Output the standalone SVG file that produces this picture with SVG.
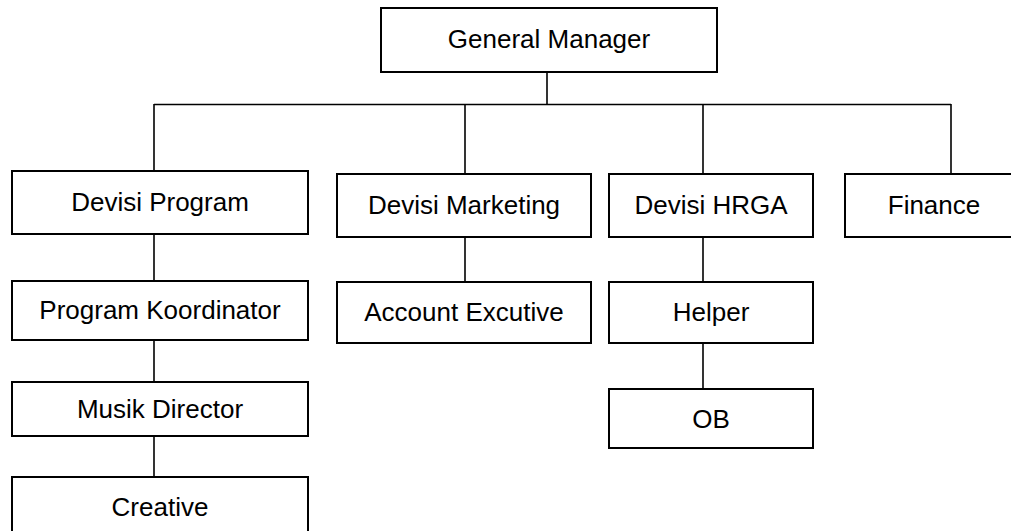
<svg xmlns="http://www.w3.org/2000/svg" width="1011" height="531" viewBox="0 0 1011 531">
<style>
  .box { fill: #ffffff; stroke: #000000; stroke-width: 2; }
  .lbl { font-family: "Liberation Sans", Arial, sans-serif; font-size: 26px; fill: #000000; text-anchor: middle; }
  .conn { stroke: #000000; stroke-width: 1.6; fill: none; }
</style>
<rect x="0" y="0" width="1011" height="531" fill="#ffffff"/>
<g id="connectors">
  <line class="conn" x1="547" y1="72" x2="547" y2="104.5"/>
  <line class="conn" x1="154" y1="104.5" x2="951" y2="104.5"/>
  <line class="conn" x1="154" y1="104" x2="154" y2="171"/>
  <line class="conn" x1="154" y1="234" x2="154" y2="281"/>
  <line class="conn" x1="154" y1="340" x2="154" y2="382"/>
  <line class="conn" x1="154" y1="436" x2="154" y2="477"/>
  <line class="conn" x1="465" y1="104" x2="465" y2="174"/>
  <line class="conn" x1="465" y1="237" x2="465" y2="282"/>
  <line class="conn" x1="703" y1="104" x2="703" y2="174"/>
  <line class="conn" x1="703" y1="237" x2="703" y2="282"/>
  <line class="conn" x1="703" y1="343" x2="703" y2="389"/>
  <line class="conn" x1="951" y1="104" x2="951" y2="174"/>
</g>
<g id="general-manager">
  <rect class="box" x="381" y="8" width="336" height="64"/>
  <text class="lbl" x="549" y="48">General Manager</text>
</g>
<g id="devisi-program">
  <rect class="box" x="12" y="171" width="296" height="63"/>
  <text class="lbl" x="160" y="211">Devisi Program</text>
</g>
<g id="program-koordinator">
  <rect class="box" x="12" y="281" width="296" height="59"/>
  <text class="lbl" x="160" y="319">Program Koordinator</text>
</g>
<g id="musik-director">
  <rect class="box" x="12" y="382" width="296" height="54"/>
  <text class="lbl" x="160" y="418">Musik Director</text>
</g>
<g id="creative">
  <rect class="box" x="12" y="477" width="296" height="70"/>
  <text class="lbl" x="160" y="516">Creative</text>
</g>
<g id="devisi-marketing">
  <rect class="box" x="337" y="174" width="254" height="63"/>
  <text class="lbl" x="464" y="214">Devisi Marketing</text>
</g>
<g id="account-excutive">
  <rect class="box" x="337" y="282" width="254" height="61"/>
  <text class="lbl" x="464" y="321">Account Excutive</text>
</g>
<g id="devisi-hrga">
  <rect class="box" x="609" y="174" width="204" height="63"/>
  <text class="lbl" x="711" y="214">Devisi HRGA</text>
</g>
<g id="helper">
  <rect class="box" x="609" y="282" width="204" height="61"/>
  <text class="lbl" x="711" y="321">Helper</text>
</g>
<g id="ob">
  <rect class="box" x="609" y="389" width="204" height="59"/>
  <text class="lbl" x="711" y="428">OB</text>
</g>
<g id="finance">
  <rect class="box" x="845" y="174" width="178" height="63"/>
  <text class="lbl" x="934" y="214">Finance</text>
</g>
</svg>
